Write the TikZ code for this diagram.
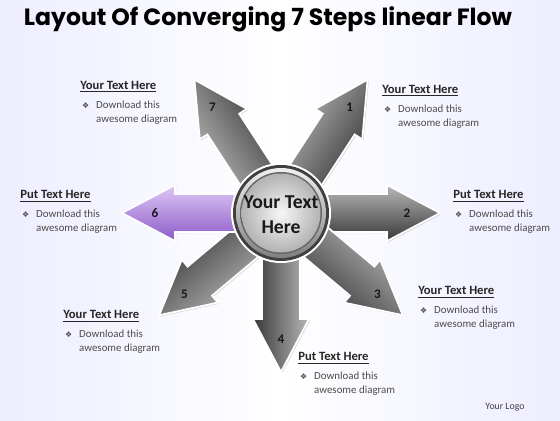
\documentclass[tikz,border=0pt]{standalone}
\usepackage{fontspec}
\setmainfont{Carlito}
\newfontfamily\titlefont{Poppins}
\newfontfamily\symfont{DejaVu Sans}
\usetikzlibrary{positioning,shadows,calc}

\definecolor{lilaclight}{RGB}{222,200,245}
\definecolor{lilacdark}{RGB}{140,90,200}
\tikzset{
  steparrow/.style   = {draw=white, line width=1pt,
                        drop shadow={opacity=0.3, shadow xshift=0.7pt, shadow yshift=-0.7pt}},
  grayarrow/.style   = {steparrow, top color=black!28, bottom color=black!78},
  purplearrow/.style = {steparrow, top color=lilaclight, bottom color=lilacdark},
  stepnum/.style     = {font=\bfseries\fontsize{7.5}{9}\selectfont, inner sep=0pt, text=black!90},
  head/.style        = {font=\bfseries\fontsize{7.2}{8}\selectfont, inner sep=0pt,
                        anchor=west, text=black!85},
  body/.style        = {font=\fontsize{6.2}{8}\selectfont, inner sep=0pt,
                        anchor=north west, text=black!70},
  hub/.style         = {circle, align=center, inner sep=0pt,
                        font=\bfseries\fontsize{11.2}{14}\selectfont, text=black!90}
}
\newcommand{\bul}{{\symfont\fontsize{4.5}{6}\selectfont ❖}}
\newcommand{\blurb}{\begin{tabular}{@{}l@{\hspace{4pt}}l@{}}\bul & Download this\\ & awesome diagram\end{tabular}}

\begin{document}
\begin{tikzpicture}[x=0.02cm, y=0.02cm]
% background
\shade[left color=blue!7, right color=blue!7, middle color=white] (0,0) rectangle (560,420);
\useasboundingbox (0,0) rectangle (560,420);
\coordinate (C) at (281,207);

\node[font=\titlefont\bfseries\fontsize{13.4}{15}\selectfont] (title) at (268,401)
  {Layout Of Converging 7 Steps linear Flow};

% arrows
\foreach \a/\n in {57/1,0/2,-40/3,-90/4,-140/5,123/7}{
  \begin{scope}[shift={(C)}, rotate=\a]
    \path[grayarrow, shading angle=\a] (40,-19) -- (106,-19) -- (106,-28) -- (159,0)
      -- (106,28) -- (106,19) -- (40,19) -- cycle;
  \end{scope}
}
\begin{scope}[shift={(C)}, rotate=180]
  \path[purplearrow] (40,-19) -- (106,-19) -- (106,-28) -- (159,0)
    -- (106,28) -- (106,19) -- (40,19) -- cycle;
\end{scope}
\foreach \a/\n in {57/1,0/2,-40/3,-90/4,-140/5,180/6,123/7}
  \node[stepnum] (n\n) at ($(C)+(\a:126)$) {\n};

% hub
\fill[white] (C) circle (50);
\fill[black!75] (C) circle (48);
\shade[top color=black!6, bottom color=black!50] (C) circle (45);
\fill[black!60] (C) circle (41);
\shade[inner color=black!3, outer color=black!30] (C) circle (39.5);
\node[hub] (hub) at ([yshift=-1pt]C) {Your Text\\Here};

% text blocks
\node[head] (t1) at (382,329) {\underline{Your Text Here}};
\node[body] (d1) at ([xshift=1pt,yshift=-3pt]t1.south west) {\blurb};
\node[head] (t2) at (453,224) {\underline{Put Text Here}};
\node[body] (d2) at ([xshift=1pt,yshift=-3pt]t2.south west) {\blurb};
\node[head] (t3) at (418,128) {\underline{Your Text Here}};
\node[body] (d3) at ([xshift=1pt,yshift=-3pt]t3.south west) {\blurb};
\node[head] (t4) at (298,62) {\underline{Put Text Here}};
\node[body] (d4) at ([xshift=1pt,yshift=-3pt]t4.south west) {\blurb};
\node[head] (t5) at (63,104) {\underline{Your Text Here}};
\node[body] (d5) at ([xshift=1pt,yshift=-3pt]t5.south west) {\blurb};
\node[head] (t6) at (20,224) {\underline{Put Text Here}};
\node[body] (d6) at ([xshift=1pt,yshift=-3pt]t6.south west) {\blurb};
\node[head] (t7) at (80,333) {\underline{Your Text Here}};
\node[body] (d7) at ([xshift=1pt,yshift=-3pt]t7.south west) {\blurb};

\node[font=\fontsize{5.6}{7}\selectfont, text=black!75] (logo) at (505,13) {Your Logo};
\end{tikzpicture}
\end{document}
